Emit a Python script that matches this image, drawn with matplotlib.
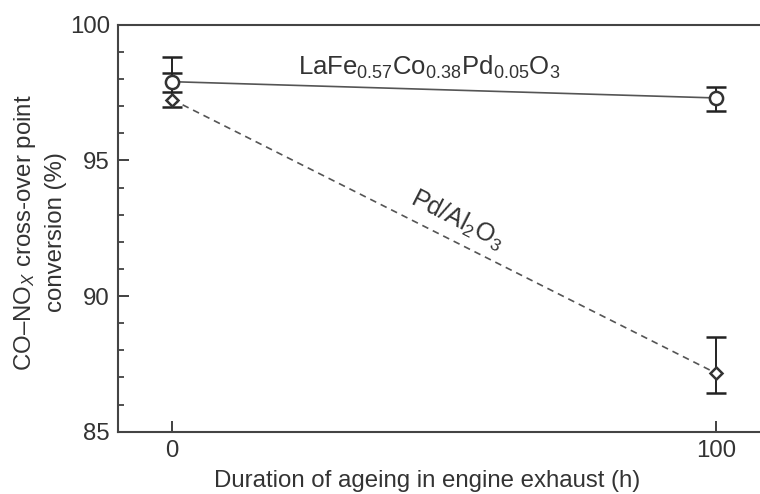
import matplotlib
matplotlib.use("Agg")
import matplotlib.pyplot as plt

# ageing time (h)
hours = [0, 100]

# LaFe0.57Co0.38Pd0.05O3 perovskite
lafe_conv = [97.9, 97.3]
lafe_err_lo = [0.37, 0.47]
lafe_err_hi = [0.90, 0.40]

# Pd/Al2O3 reference
pd_conv = [97.24, 87.15]
pd_err_lo = [0.27, 0.74]
pd_err_hi = [0.98, 1.33]

ink = "#333333"
line_col = "#555555"

plt.rcParams["font.family"] = ["Liberation Sans", "DejaVu Sans"]
plt.rcParams["mathtext.fontset"] = "custom"
plt.rcParams["mathtext.rm"] = "Liberation Sans"
plt.rcParams["mathtext.it"] = "Liberation Sans:italic"
plt.rcParams["text.color"] = ink
plt.rcParams["axes.labelcolor"] = ink
plt.rcParams["xtick.color"] = ink
plt.rcParams["ytick.color"] = ink

fig = plt.figure(figsize=(7.6, 4.94), dpi=100)
ax = fig.add_axes([0.1557, 0.1261, 0.8443, 0.8239])

ax.errorbar(hours, lafe_conv, yerr=[lafe_err_lo, lafe_err_hi], fmt="o-",
            color=line_col, lw=1.2, ecolor="#222222", elinewidth=1.4,
            capsize=7, capthick=1.6, ms=9.5, mfc="white", mec="#333333",
            mew=1.8, zorder=3)
ax.errorbar(hours, pd_conv, yerr=[pd_err_lo, pd_err_hi], fmt="D--",
            color=line_col, lw=1.2, dashes=(4, 3), ecolor="#222222",
            elinewidth=1.4, capsize=7, capthick=1.6, ms=6.5, mfc="white",
            mec="#333333", mew=1.8, zorder=3)

ax.text(23.2, 98.15, r"LaFe$_{0.57}$Co$_{0.38}$Pd$_{0.05}$O$_3$",
        fontsize=18.5, ha="left", va="baseline")
ax.text(52.3, 92.8, r"Pd/Al$_2$O$_3$", fontsize=18, rotation=-27,
        ha="center", va="center", rotation_mode="anchor")

ax.set_xlim(-9.9, 108.0)
ax.set_ylim(85, 100)
ax.set_xticks([0, 100])
ax.set_yticks([85, 90, 95, 100])
ax.set_yticks(range(85, 101), minor=True)

ax.tick_params(axis="both", which="major", direction="in", length=8,
               width=1.3, labelsize=17.3, pad=6)
ax.tick_params(axis="y", which="minor", direction="in", length=4.5,
               width=1.2)

for side in ["left", "bottom", "top"]:
    ax.spines[side].set_linewidth(1.5)
    ax.spines[side].set_color("#444444")
ax.spines["right"].set_visible(False)

ax.set_xlabel("Duration of ageing in engine exhaust (h)", fontsize=17.3)
ax.xaxis.set_label_coords(0.481, -0.095)
ax.set_ylabel("CO\u2013NO$_{\\mathit{X}}$ cross-over point\nconversion (%)",
              fontsize=17.3, linespacing=1.4)
ax.yaxis.set_label_coords(-0.08, 0.49)

fig.savefig("out.png", dpi=100)
